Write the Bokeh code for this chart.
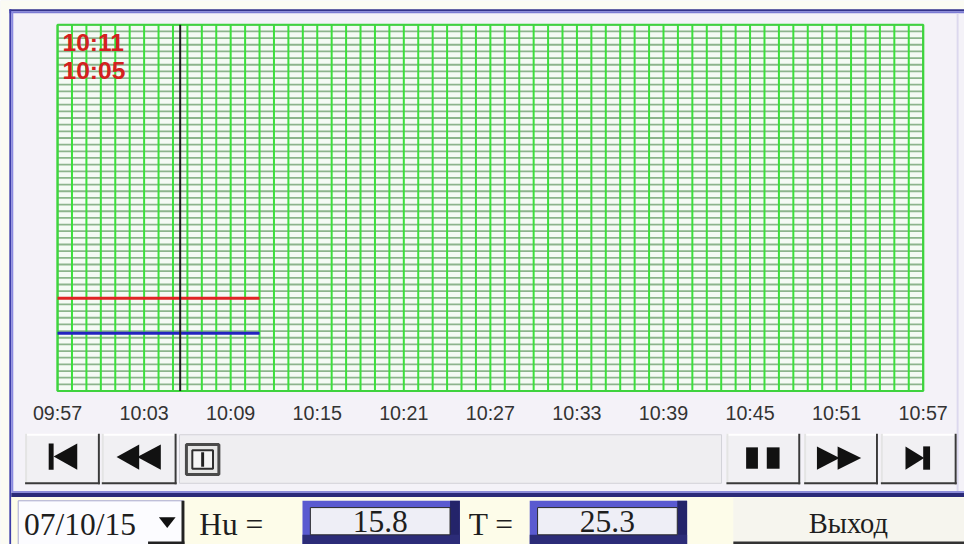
from bokeh.plotting import figure
from bokeh.models import Range1d
from bokeh.core.properties import value
from bokeh.embed import file_html
from bokeh.resources import INLINE

# ---------------- data ----------------
tick_minutes = [0, 6, 12, 18, 24, 30, 36, 42, 48, 54, 60]
tick_labels = ["09:57", "10:03", "10:09", "10:15", "10:21", "10:27",
               "10:33", "10:39", "10:45", "10:51", "10:57"]
temp_minutes = [0, 14]          # temperature trace (red)
temp_values = [25.3, 25.3]
hum_minutes = [0, 14]           # humidity trace (blue)
hum_values = [15.8, 15.8]
cursor_minute = 8.5
end_label = "10:11"
cursor_label = "10:05"
date_label = "07/10/15"
hu_text = "15.8"
t_text = "25.3"
exit_text = "Выход"

# ---------------- layout (reference pixel space 980 x 560) ----------------
W, H = 964, 544
RW, RH = 980, 560
PL, PR, PT, PB = 58, 938, 25, 402          # chart area in reference pixels
TMAX, VMAX = 60, 100
FS = W / RW                                # font scale

p = figure(width=W, height=H, x_range=Range1d(0, RW), y_range=Range1d(RH, 0),
           x_axis_type=None, y_axis_type=None, output_backend="svg",
           toolbar_location=None, min_border=0)
p.outline_line_color = None
p.grid.visible = False
p.border_fill_color = "#f4f2f8"
p.background_fill_color = "#f4f2f8"
p.extra_x_ranges = {"t": Range1d(-PL / (PR - PL) * TMAX,
                                 TMAX + (RW - PR) / (PR - PL) * TMAX)}
p.extra_y_ranges = {"v": Range1d(-(RH - PB) / (PB - PT) * VMAX,
                                 VMAX + PT / (PB - PT) * VMAX)}
D = dict(x_range_name="t", y_range_name="v")


def fs(px):
    return "%.1fpx" % (px * FS)


def box(x0, y0, x1, y1, fill, line=None, lw=1):
    p.quad(left=[x0], right=[x1], top=[y0], bottom=[y1], fill_color=fill,
           line_color=line, line_width=lw)


def poly(xs, ys, fill="#111111"):
    p.patch(xs, ys, fill_color=fill, line_color=None)


def text(x, y, s, size, font="Liberation Serif", color="#1e1e1e", align="left",
         style="normal"):
    p.text(x=[x], y=[y], text=[s], text_font=value(font), text_font_size=value(fs(size)),
           text_color=color, text_align=align, text_baseline="middle",
           text_font_style=style)


# window frame
box(0, 0, RW, 9, "#fbfbf3")
box(0, 0, 9, RH, "#fbfbf3")
box(9, 9, RW, 11, "#34348c")
box(9, 11, RW, 13, "#7b7bd4")
box(9, 9, 11, RH, "#3c3ca8")
box(11, 11, 13, 505, "#8a8ae0")
box(972, 13, 974, 505, "#dcd8ee")
box(11, 505, RW, 507, "#8c8cd8")
box(11, 507, RW, 511, "#2a2a78")
box(11, 511, RW, RH, "#fdfce9")

# ---------------- chart (through minute / value scales) ----------------
p.quad(left=[0], right=[TMAX], bottom=[0], top=[VMAX], fill_color="#f4faf4",
       line_color=None, **D)
hgrid = [i * VMAX / 55 for i in range(56)]
p.segment(x0=[0] * len(hgrid), x1=[TMAX] * len(hgrid), y0=hgrid, y1=hgrid,
          line_color="#8cb48c", line_width=1.8, **D)
vgrid = list(range(0, TMAX + 1))
p.segment(x0=vgrid, x1=vgrid, y0=[0] * len(vgrid), y1=[VMAX] * len(vgrid),
          line_color="#3ce03c", line_width=2, **D)
p.quad(left=[0], right=[TMAX], bottom=[0], top=[VMAX], fill_color=None,
       line_color="#3fd33f", line_width=2, **D)
p.line(temp_minutes, temp_values, line_color="#e02424", line_width=3, **D)
p.line(hum_minutes, hum_values, line_color="#2323c0", line_width=3, **D)
p.segment(x0=[cursor_minute], x1=[cursor_minute], y0=[0], y1=[VMAX],
          line_color="#1c1c1c", line_width=2, **D)
p.text(x=tick_minutes, y=[0] * len(tick_minutes), text=tick_labels,
       text_font=value("Liberation Sans"), text_font_size=value(fs(20)),
       text_color="#333333", text_align="center", text_baseline="middle",
       y_offset=22, **D)

text(63, 43, end_label, 25, font="Liberation Sans", color="#d42020", style="bold")
text(63, 72, cursor_label, 25, font="Liberation Sans", color="#d42020", style="bold")


# ---------------- transport buttons ----------------
def button(x0, x1, y0=446, y1=498):
    box(x0, y0, x1, y1, "#f1f0f3")
    box(x0, y0, x1, y0 + 2, "#ffffff")
    box(x0, y0, x0 + 2, y1, "#e4e4e4")
    box(x0, y1 - 2, x1, y1, "#3a3a3a")
    box(x1 - 2, y0, x1, y1, "#3a3a3a")


button(25, 101)
button(103, 179)
box(182, 447, 733, 497, "#efeef1", "#d2d2d8", 1)
button(738, 813)
button(817, 892)
button(895, 972)

box(49, 456, 54, 483, "#111111")
poly([54, 78, 78], [469.5, 456, 483])
poly([118, 141, 141], [470, 457, 483])
poly([139, 163, 163], [470, 457, 483])
box(758, 460, 770, 482, "#111111")
box(779, 460, 792, 482, "#111111")
poly([830, 853, 830], [459, 471, 483])
poly([851, 875, 851], [459, 471, 483])
poly([920, 939, 920], [459, 471, 483])
box(938, 459, 945, 483, "#111111")

# slider thumb
box(189, 457, 222, 488, "#e6e6e6", "#4a4a4a", 3)
box(195, 463, 216, 482, "#f4f4f4", "#2e2e2e", 2)
box(204, 465, 207, 480, "#222222")

# ---------------- bottom row ----------------
box(18, 515, 186, 560, "#fcfcff", "#a8a8d0", 1)
box(184, 515, 187, 560, "#222222")
box(150, 557, 187, 560, "#222222")
text(24, 539, date_label, 32)
poly([161, 178, 169.5], [532, 532, 543])
text(202, 539, "Hu =", 32)


def valuebox(x0, x1, s):
    box(x0, 515, x1, 560, "#5a5ad0")
    box(x1 - 10, 515, x1, 560, "#24246a")
    box(x0, 550, x1, 560, "#2c2c78")
    box(x0 + 8, 522, x1 - 10, 550, "#eeeef6", "#2a2a2a", 1)
    text((x0 + x1) / 2 - 1, 536, s, 32, align="center")


valuebox(307, 467, hu_text)
text(476, 539, "T =", 32)
valuebox(538, 698, t_text)

box(745, 512, RW, 560, "#f6f5ee")
box(745, 557, RW, 560, "#333333")
text(862, 538, exit_text, 29, align="center")

open("out.html", "w").write(file_html(p, INLINE))
